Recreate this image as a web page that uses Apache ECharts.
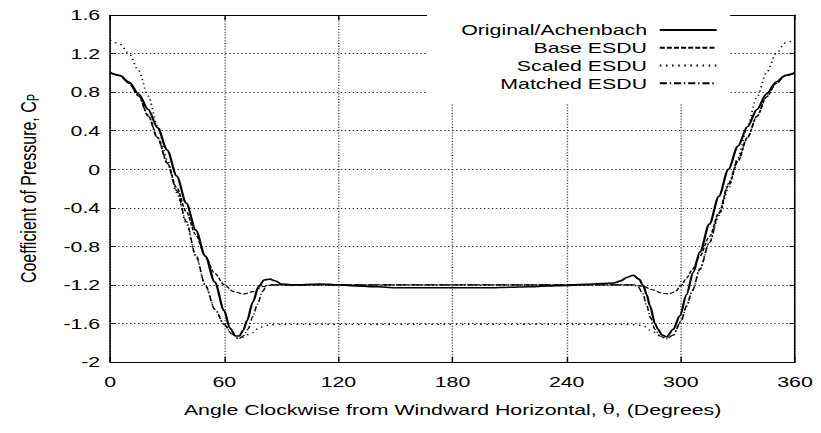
<!DOCTYPE html>
<html>
<head>
<meta charset="utf-8">
<script src="https://cdn.jsdelivr.net/npm/echarts@6/dist/echarts.min.js"></script>
<style>
html,body{margin:0;padding:0;background:#fff;overflow:hidden}
/* the reference picture is a horizontally stretched plot: draw at 578x433 and stretch to 821 wide */
#c{width:578px;height:433px;transform:scaleX(1.42042);transform-origin:0 0}
</style>
</head>
<body>
<div id="c"></div>
<script>
// ---- data ----
const xTicks = [0, 60, 120, 180, 240, 300, 360];
const yTicks = [-2, -1.6, -1.2, -0.8, -0.4, 0, 0.4, 0.8, 1.2, 1.6];
const seriesNames = ['Original/Achenbach', 'Base ESDU', 'Scaled ESDU', 'Matched ESDU'];

const achenbachTheta = [0,5,10,15,20,25,30,35,40,45,50,55,60,63,66,68,70,72,75,78,81,84,87,90,95,100,110,120,130,140,150,160,170,180,190,200,210,220,230,240,250,258,265,268,272,275,278,280.3,282,283.8,286.4,288,290,292.5,296,299.5,303,306.5,310,315,320,325,330,335,340,345,350,355,360];
const achenbachCp = [1.0,0.975,0.905,0.78,0.62,0.43,0.2,-0.07,-0.35,-0.63,-0.9,-1.17,-1.47,-1.65,-1.73,-1.73,-1.67,-1.57,-1.38,-1.22,-1.15,-1.14,-1.16,-1.19,-1.2,-1.2,-1.19,-1.2,-1.21,-1.22,-1.23,-1.23,-1.23,-1.23,-1.23,-1.23,-1.225,-1.22,-1.21,-1.205,-1.195,-1.185,-1.18,-1.16,-1.12,-1.10,-1.14,-1.21,-1.3,-1.42,-1.6,-1.66,-1.72,-1.74,-1.66,-1.52,-1.3,-1.07,-0.86,-0.57,-0.28,0.0,0.24,0.44,0.62,0.78,0.905,0.975,1.0];

const baseTheta = [0,5,10,15,20,25,30,35,40,45,50,55,60,65,70,75,80,85,275,280,285,290,293.5,297,300,303,306,310,315,320,325,330,335,340,345,350,355,360];
const baseCp = [1.0,0.97,0.89,0.76,0.56,0.33,0.07,-0.19,-0.44,-0.68,-0.9,-1.08,-1.2,-1.27,-1.295,-1.27,-1.22,-1.2,-1.2,-1.215,-1.25,-1.285,-1.295,-1.27,-1.21,-1.13,-1.04,-0.9,-0.7,-0.45,-0.17,0.08,0.33,0.55,0.75,0.89,0.97,1.0];

const scaledTheta = [0,5,10,15,20,25,30,35,40,45,50,55,60,64,67.5,70,73.6,78.8,84,90,270,276,280,285,289,292.5,296,300,303,306,310,315,320,325,330,335,340,345,350,355,360];
const scaledCp = [1.34,1.30,1.2,1.02,0.76,0.45,0.1,-0.24,-0.56,-0.9,-1.2,-1.45,-1.61,-1.71,-1.757,-1.745,-1.71,-1.64,-1.615,-1.61,-1.61,-1.612,-1.625,-1.68,-1.73,-1.757,-1.72,-1.58,-1.42,-1.26,-1.03,-0.76,-0.48,-0.2,0.12,0.45,0.75,1.0,1.2,1.31,1.34];

const matchedTheta = [0,5,10,15,20,25,30,35,40,45,50,55,60,64,67.5,70,72.5,75,77.5,80,82.5,85,275,277.5,280,282,284,286.4,289,292.5,296,300,303,306,310,315,320,325,330,335,340,345,350,355,360];
const matchedCp = [1.0,0.97,0.89,0.76,0.55,0.32,0.06,-0.22,-0.54,-0.89,-1.2,-1.45,-1.61,-1.71,-1.76,-1.73,-1.66,-1.53,-1.40,-1.27,-1.205,-1.2,-1.2,-1.22,-1.29,-1.41,-1.54,-1.66,-1.73,-1.76,-1.72,-1.58,-1.42,-1.26,-1.04,-0.76,-0.46,-0.15,0.1,0.33,0.55,0.75,0.89,0.97,1.0];

function pairs(t, v) { return t.map((x, i) => [x, v[i]]); }

const FONT = 'Liberation Sans, Arial, Helvetica, sans-serif';
const chart = echarts.init(document.getElementById('c'), null, {renderer: 'svg'});

const gridLine = {show: true, lineStyle: {color: '#333', width: 1, type: [1, 1.8]}};
const xTick = {show: true, inside: true, length: 5, lineStyle: {color: '#000', width: 1}};
const yTick = {show: true, inside: true, length: 4, lineStyle: {color: '#000', width: 1}};
const axisLine = {show: true, onZero: false, lineStyle: {color: '#000', width: 1.1}};

const lineStyles = [
  {color: '#000', width: 1.6, type: 'solid'},
  {color: '#000', width: 1.1, type: [3.5, 1.5]},
  {color: '#000', width: 1.25, type: [1.1, 3.2]},
  {color: '#000', width: 1.1, type: [5, 2, 1, 2]}
];
const datasets = [
  pairs(achenbachTheta, achenbachCp),
  pairs(baseTheta, baseCp),
  pairs(scaledTheta, scaledCp),
  pairs(matchedTheta, matchedCp)
];

chart.setOption({
  animation: false,
  backgroundColor: '#fff',
  textStyle: {fontFamily: FONT},
  grid: {left: 77.5, right: 18.3, top: 15, bottom: 71},
  legend: {
    orient: 'vertical',
    right: 64, top: 15,
    align: 'right',
    backgroundColor: '#fff',
    padding: [6, 8.5, 11, 24],
    itemWidth: 40, itemHeight: 12, itemGap: 0,
    itemStyle: {opacity: 0},
    textStyle: {fontFamily: FONT, fontSize: 15, color: '#000', lineHeight: 17.8, padding: [0, 4, 0, 0]},
    data: seriesNames
  },
  xAxis: [{
    type: 'value', min: 0, max: 360, interval: 60,
    axisLine: axisLine, axisTick: xTick, splitLine: gridLine,
    axisLabel: {color: '#000', fontSize: 15, fontFamily: FONT, margin: 12},
    name: 'Angle Clockwise from Windward Horizontal, {t|θ}, (Degrees)',
    nameLocation: 'middle', nameGap: 40,
    nameTextStyle: {color: '#000', fontSize: 15, fontFamily: FONT,
      rich: {t: {fontFamily: 'DejaVu Serif, Liberation Serif, serif', fontSize: 14, color: '#000'}}}
  }, {
    type: 'value', min: 0, max: 360, interval: 60, position: 'top',
    axisLine: axisLine, axisTick: xTick, axisLabel: {show: false}, splitLine: {show: false}
  }],
  yAxis: [{
    type: 'value', min: -2, max: 1.6, interval: 0.4,
    axisLine: axisLine, axisTick: yTick, splitLine: gridLine,
    axisLabel: {color: '#000', fontSize: 15, fontFamily: FONT, margin: 7,
      formatter: v => String(Math.round(v * 10) / 10)},
    name: '{a|Coefficient of Pressure, C}{b|P}',
    nameLocation: 'middle', nameRotate: 90, nameGap: 48,
    nameTextStyle: {color: '#000', fontSize: 16, fontFamily: FONT,
      rich: {a: {fontSize: 16, fontFamily: FONT, color: '#000', lineHeight: 20},
             b: {fontSize: 11, fontFamily: FONT, color: '#000', lineHeight: 20, padding: [8, 0, 0, 0]}}}
  }, {
    type: 'value', min: -2, max: 1.6, interval: 0.4, position: 'right',
    axisLine: axisLine, axisTick: yTick, axisLabel: {show: false}, splitLine: {show: false}
  }],
  series: seriesNames.map((n, i) => ({
    name: n, type: 'line', data: datasets[i], showSymbol: false, symbol: 'none',
    smooth: 0.3, smoothMonotone: 'x', lineStyle: lineStyles[i], itemStyle: {color: '#000'},
    z: 2 + (i === 0 ? 1 : 0)
  }))
});
</script>
</body>
</html>
